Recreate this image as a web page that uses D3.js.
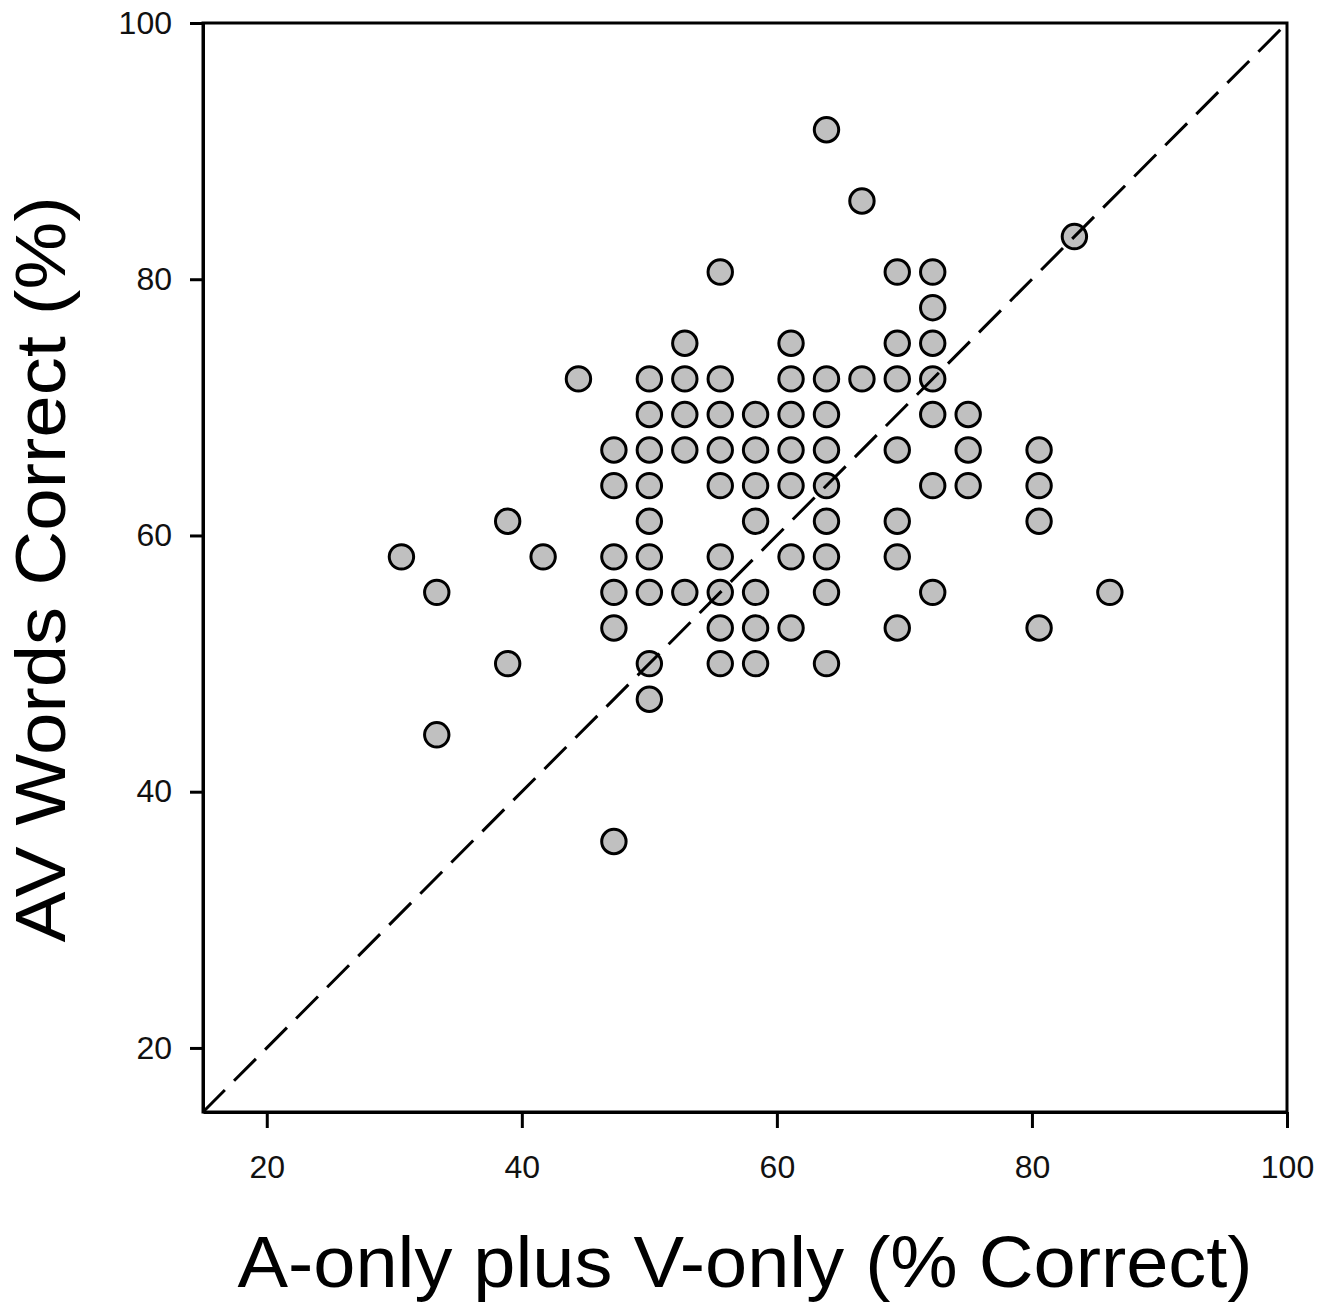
<!DOCTYPE html>
<html><head><meta charset="utf-8">
<script src="https://cdn.jsdelivr.net/npm/d3@7"></script>
<style>body{margin:0;background:#fff}</style>
</head><body><svg id="c" width="1335" height="1305"></svg>
<script>
// A-only plus V-only (% correct)
const xValues = [
  63.89, 66.67, 83.33,
  55.56, 69.44, 72.22,
  72.22,
  52.78, 61.11, 69.44, 72.22,
  44.44, 50.00, 52.78, 55.56, 61.11, 63.89, 66.67, 69.44, 72.22,
  50.00, 52.78, 55.56, 58.33, 61.11, 63.89, 72.22, 75.00,
  47.22, 50.00, 52.78, 55.56, 58.33, 61.11, 63.89, 69.44, 75.00, 80.56,
  47.22, 50.00, 55.56, 58.33, 61.11, 63.89, 72.22, 75.00, 80.56,
  38.89, 50.00, 58.33, 63.89, 69.44, 80.56,
  30.56, 41.67, 47.22, 50.00, 55.56, 61.11, 63.89, 69.44,
  33.33, 47.22, 50.00, 52.78, 55.56, 58.33, 63.89, 72.22, 86.11,
  47.22, 55.56, 58.33, 61.11, 69.44, 80.56,
  38.89, 50.00, 55.56, 58.33, 63.89,
  50.00,
  33.33,
  47.22
];
// AV words correct (%)
const yValues = [
  91.67, 86.11, 83.33,
  80.56, 80.56, 80.56,
  77.78,
  75.00, 75.00, 75.00, 75.00,
  72.22, 72.22, 72.22, 72.22, 72.22, 72.22, 72.22, 72.22, 72.22,
  69.44, 69.44, 69.44, 69.44, 69.44, 69.44, 69.44, 69.44,
  66.67, 66.67, 66.67, 66.67, 66.67, 66.67, 66.67, 66.67, 66.67, 66.67,
  63.89, 63.89, 63.89, 63.89, 63.89, 63.89, 63.89, 63.89, 63.89,
  61.11, 61.11, 61.11, 61.11, 61.11, 61.11,
  58.33, 58.33, 58.33, 58.33, 58.33, 58.33, 58.33, 58.33,
  55.56, 55.56, 55.56, 55.56, 55.56, 55.56, 55.56, 55.56, 55.56,
  52.78, 52.78, 52.78, 52.78, 52.78, 52.78,
  50.00, 50.00, 50.00, 50.00, 50.00,
  47.22,
  44.44,
  36.11
];
const xTicks = [20, 40, 60, 80, 100];
const yTicks = [20, 40, 60, 80, 100];
const xDomain = [15, 100];
const yDomain = [15, 100];
const identityLine = [15, 100];
const xTitle = "A-only plus V-only (% Correct)";
const yTitle = "AV Words Correct (%)";

const L = 203, R = 1287, T = 23, B = 1112;
const svg = d3.select("#c");
const x = d3.scaleLinear().domain(xDomain).range([L, R]);
const y = d3.scaleLinear().domain(yDomain).range([B, T]);
const font = "'Liberation Sans', Arial, sans-serif";

const pts = xValues.map((v, i) => ({x: v, y: yValues[i]}));

// dots
svg.append("g").selectAll("circle").data(pts).join("circle")
  .attr("cx", d => x(d.x)).attr("cy", d => y(d.y)).attr("r", 12.2)
  .attr("fill", "#c0c0c0").attr("stroke", "#000").attr("stroke-width", 3);

// identity dashed line (on top of dots)
svg.append("line")
  .attr("x1", x(identityLine[0])).attr("y1", y(identityLine[0]))
  .attr("x2", x(identityLine[1])).attr("y2", y(identityLine[1]))
  .attr("stroke", "#000").attr("stroke-width", 3)
  .attr("stroke-dasharray", "31,13");

// frame
svg.append("rect").attr("x", L).attr("y", T).attr("width", R - L).attr("height", B - T)
  .attr("fill", "none").attr("stroke", "#000").attr("stroke-width", 3);

// axes
const gx = svg.append("g").attr("transform", `translate(0,${B})`)
  .call(d3.axisBottom(x).tickValues(xTicks).tickFormat(d3.format("d"))
    .tickSize(16).tickSizeOuter(0).tickPadding(27));
const gy = svg.append("g").attr("transform", `translate(${L},0)`)
  .call(d3.axisLeft(y).tickValues(yTicks).tickFormat(d3.format("d"))
    .tickSize(13).tickSizeOuter(0).tickPadding(18));
[gx, gy].forEach(g => {
  g.select(".domain").attr("stroke-width", 3);
  g.selectAll(".tick line").attr("stroke-width", 3);
  g.selectAll(".tick text").attr("font-family", font).attr("font-size", 32).attr("fill", "#111");
});

// titles
svg.append("text").attr("x", (L + R) / 2).attr("y", 1287)
  .attr("text-anchor", "middle").attr("font-family", font).attr("font-size", 72)
  .attr("textLength", 1015).attr("lengthAdjust", "spacingAndGlyphs")
  .attr("fill", "#000").text(xTitle);
svg.append("text").attr("transform", `translate(65,${(T + B) / 2 + 2}) rotate(-90)`)
  .attr("text-anchor", "middle").attr("font-family", font).attr("font-size", 70)
  .attr("textLength", 746).attr("lengthAdjust", "spacingAndGlyphs")
  .attr("fill", "#000").text(yTitle);
</script>
</body></html>
